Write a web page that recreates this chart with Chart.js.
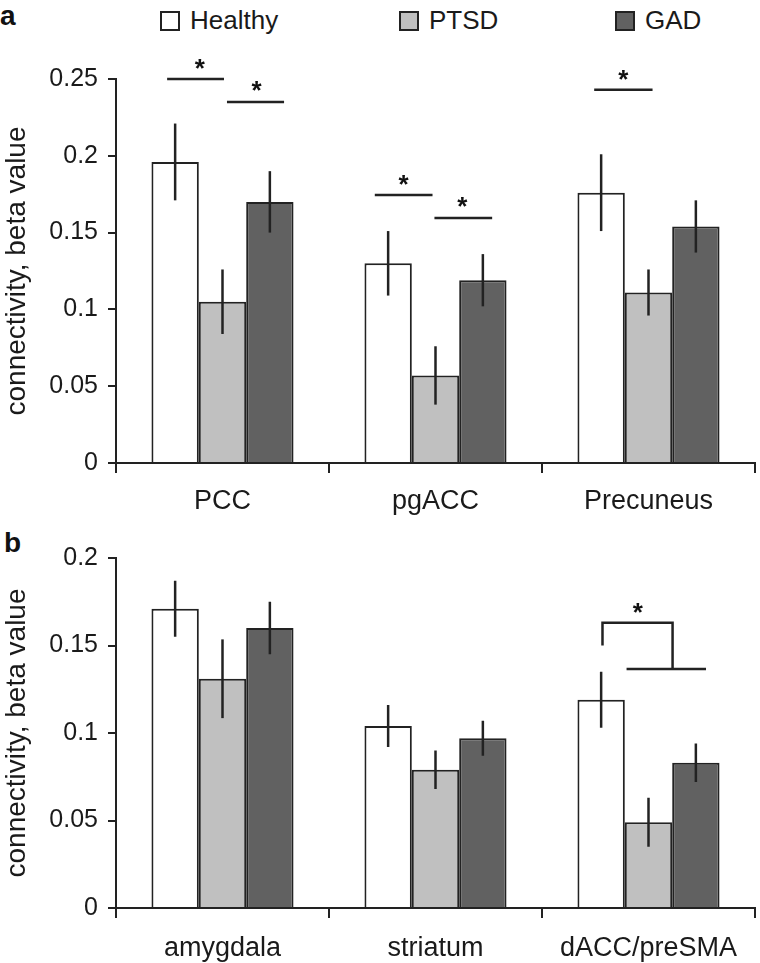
<!DOCTYPE html>
<html>
<head>
<meta charset="utf-8">
<script src="https://cdn.jsdelivr.net/npm/chart.js@4.4.1/dist/chart.umd.min.js"></script>
<style>
  body { margin: 0; background: #fff; font-family: "Liberation Sans", Arial, sans-serif; }
  #page { position: relative; width: 760px; height: 963px; }
  .panel { position: absolute; left: 0; }
  .tag { position: absolute; font-weight: bold; font-size: 28px; color: #111; }
  .legend { position: absolute; top: 5px; font-size: 26px; color: #1a1a1a; display: flex; align-items: center; }
  .legend span.box { display: inline-block; width: 16px; height: 16px; border: 2px solid #222; margin-right: 10px; }
</style>
</head>
<body>
<div id="page">
  <div class="tag" style="left:0px; top:0px;">a</div>
  <div class="tag" style="left:4px; top:527px;">b</div>
  <div class="legend" style="left:160px;"><span class="box" style="background:#ffffff"></span>Healthy</div>
  <div class="legend" style="left:399px;"><span class="box" style="background:#c0c0c0"></span>PTSD</div>
  <div class="legend" style="left:615px;"><span class="box" style="background:#616161"></span>GAD</div>
  <canvas id="chartA" class="panel" style="top:0px" width="760" height="520"></canvas>
  <canvas id="chartB" class="panel" style="top:520px" width="760" height="443"></canvas>
</div>
<script>
// Panel a: default-mode regions
const regionsA = ['PCC', 'pgACC', 'Precuneus'];
const healthyA = [0.196, 0.130, 0.176];
const ptsdA = [0.105, 0.057, 0.111];
const gadA = [0.170, 0.119, 0.154];
const healthyErrA = [0.025, 0.021, 0.025];
const ptsdErrA = [0.021, 0.019, 0.015];
const gadErrA = [0.020, 0.017, 0.017];

// Panel b: salience / subcortical regions
const regionsB = ['amygdala', 'striatum', 'dACC/preSMA'];
const healthyB = [0.171, 0.104, 0.119];
const ptsdB = [0.131, 0.079, 0.049];
const gadB = [0.160, 0.097, 0.083];
const healthyErrB = [0.016, 0.012, 0.016];
const ptsdErrB = [0.0225, 0.011, 0.014];
const gadErrB = [0.015, 0.010, 0.011];

// Significance marks: [category, offset (fraction of category), value]
const sigLinesA = [
    [[0, -0.26, 0.25], [0, 0.007, 0.25]],
    [[0, 0.021, 0.235], [0, 0.289, 0.235]],
    [[1, -0.285, 0.1745], [1, -0.014, 0.1745]],
    [[1, -0.005, 0.1595], [1, 0.266, 0.1595]],
    [[2, -0.255, 0.243], [2, 0.019, 0.243]]
];
const starsA = [[0, -0.106, 0.261], [0, 0.16, 0.2467], [1, -0.15, 0.1855], [1, 0.126, 0.171], [2, -0.118, 0.254]];

const sigLinesB = [
    [[2, -0.216, 0.150], [2, -0.216, 0.163], [2, 0.113, 0.163], [2, 0.113, 0.1366]],
    [[2, -0.103, 0.1366], [2, 0.27, 0.1366]]
];
const starsB = [[2, -0.05, 0.1726]];

const groupNames = ['Healthy', 'PTSD', 'GAD'];
const groupColors = ['#ffffff', '#c0c0c0', '#616161'];
const inkColor = '#222222';
const fontFamily = '"Liberation Sans", Arial, sans-serif';

// Draws error bars from dataset.errors
const errorBarPlugin = {
    id: 'errorBars',
    afterDatasetsDraw(chart) {
        const ctx = chart.ctx;
        const y = chart.scales.y;
        ctx.save();
        ctx.strokeStyle = inkColor;
        ctx.lineWidth = 2.5;
        chart.data.datasets.forEach((ds, i) => {
            const meta = chart.getDatasetMeta(i);
            meta.data.forEach((bar, j) => {
                const v = ds.data[j];
                const e = ds.errors[j];
                ctx.beginPath();
                ctx.moveTo(bar.x, y.getPixelForValue(v + e));
                ctx.lineTo(bar.x, y.getPixelForValue(v - e));
                ctx.stroke();
            });
        });
        ctx.restore();
    }
};

// Draws significance lines and asterisks
const sigPlugin = {
    id: 'sigMarks',
    afterDatasetsDraw(chart, args, opts) {
        const ctx = chart.ctx;
        const x = chart.scales.x;
        const y = chart.scales.y;
        const catW = x.getPixelForValue(1) - x.getPixelForValue(0);
        const px = p => x.getPixelForValue(p[0]) + p[1] * catW;
        ctx.save();
        ctx.strokeStyle = inkColor;
        ctx.lineWidth = 2.5;
        (opts.lines || []).forEach(line => {
            ctx.beginPath();
            line.forEach((p, k) => {
                if (k === 0) ctx.moveTo(px(p), y.getPixelForValue(p[2]));
                else ctx.lineTo(px(p), y.getPixelForValue(p[2]));
            });
            ctx.stroke();
        });
        const fs = 26;
        ctx.fillStyle = '#111';
        ctx.font = 'bold ' + fs + 'px ' + fontFamily;
        ctx.textAlign = 'center';
        ctx.textBaseline = 'alphabetic';
        (opts.stars || []).forEach(s => {
            ctx.fillText('*', px(s), y.getPixelForValue(s[2]) + 0.575 * fs);
        });
        ctx.restore();
    }
};

function makeChart(canvasId, labels, series, errors, yMax, padTop, plotH, labelPad, lines, stars) {
    const canvas = document.getElementById(canvasId);
    const ctx = canvas.getContext('2d');
    const xHeight = canvas.height - padTop - plotH;

    return new Chart(ctx, {
        type: 'bar',
        data: {
            labels: labels,
            datasets: series.map((vals, i) => ({
                label: groupNames[i],
                data: vals,
                errors: errors[i],
                backgroundColor: groupColors[i],
                borderColor: inkColor,
                borderWidth: 2,
                barPercentage: 1.0,
                categoryPercentage: 0.667
            }))
        },
        options: {
            responsive: false,
            animation: false,
            layout: { padding: { top: padTop, right: 5, left: 0, bottom: 0 } },
            plugins: {
                legend: { display: false },
                tooltip: { enabled: false },
                sigMarks: { lines: lines, stars: stars }
            },
            scales: {
                x: {
                    afterFit: s => { s.height = xHeight; },
                    border: { display: true, color: inkColor, width: 2 },
                    grid: {
                        offset: true,
                        drawOnChartArea: false,
                        drawTicks: true,
                        tickLength: 10,
                        color: inkColor,
                        lineWidth: 2
                    },
                    ticks: {
                        color: '#1a1a1a',
                        padding: labelPad,
                        font: { family: fontFamily, size: 27 }
                    }
                },
                y: {
                    min: 0,
                    max: yMax,
                    afterFit: s => { s.width = 116; },
                    border: { display: true, color: inkColor, width: 2 },
                    grid: {
                        drawOnChartArea: false,
                        drawTicks: true,
                        tickLength: 8,
                        color: inkColor,
                        lineWidth: 2
                    },
                    ticks: {
                        stepSize: 0.05,
                        color: '#1a1a1a',
                        padding: 10,
                        font: { family: fontFamily, size: 25 },
                        callback: v => String(Number(v.toFixed(2)))
                    },
                    title: {
                        display: true,
                        text: 'connectivity, beta value',
                        color: '#1a1a1a',
                        padding: { top: 0, bottom: 0 },
                        font: { family: fontFamily, size: 28 }
                    }
                }
            }
        },
        plugins: [errorBarPlugin, sigPlugin]
    });
}

makeChart('chartA', regionsA, [healthyA, ptsdA, gadA], [healthyErrA, ptsdErrA, gadErrA],
    0.25, 79, 384, 12, sigLinesA, starsA);
makeChart('chartB', regionsB, [healthyB, ptsdB, gadB], [healthyErrB, ptsdErrB, gadErrB],
    0.2, 38, 350, 14, sigLinesB, starsB);
</script>
</body>
</html>
